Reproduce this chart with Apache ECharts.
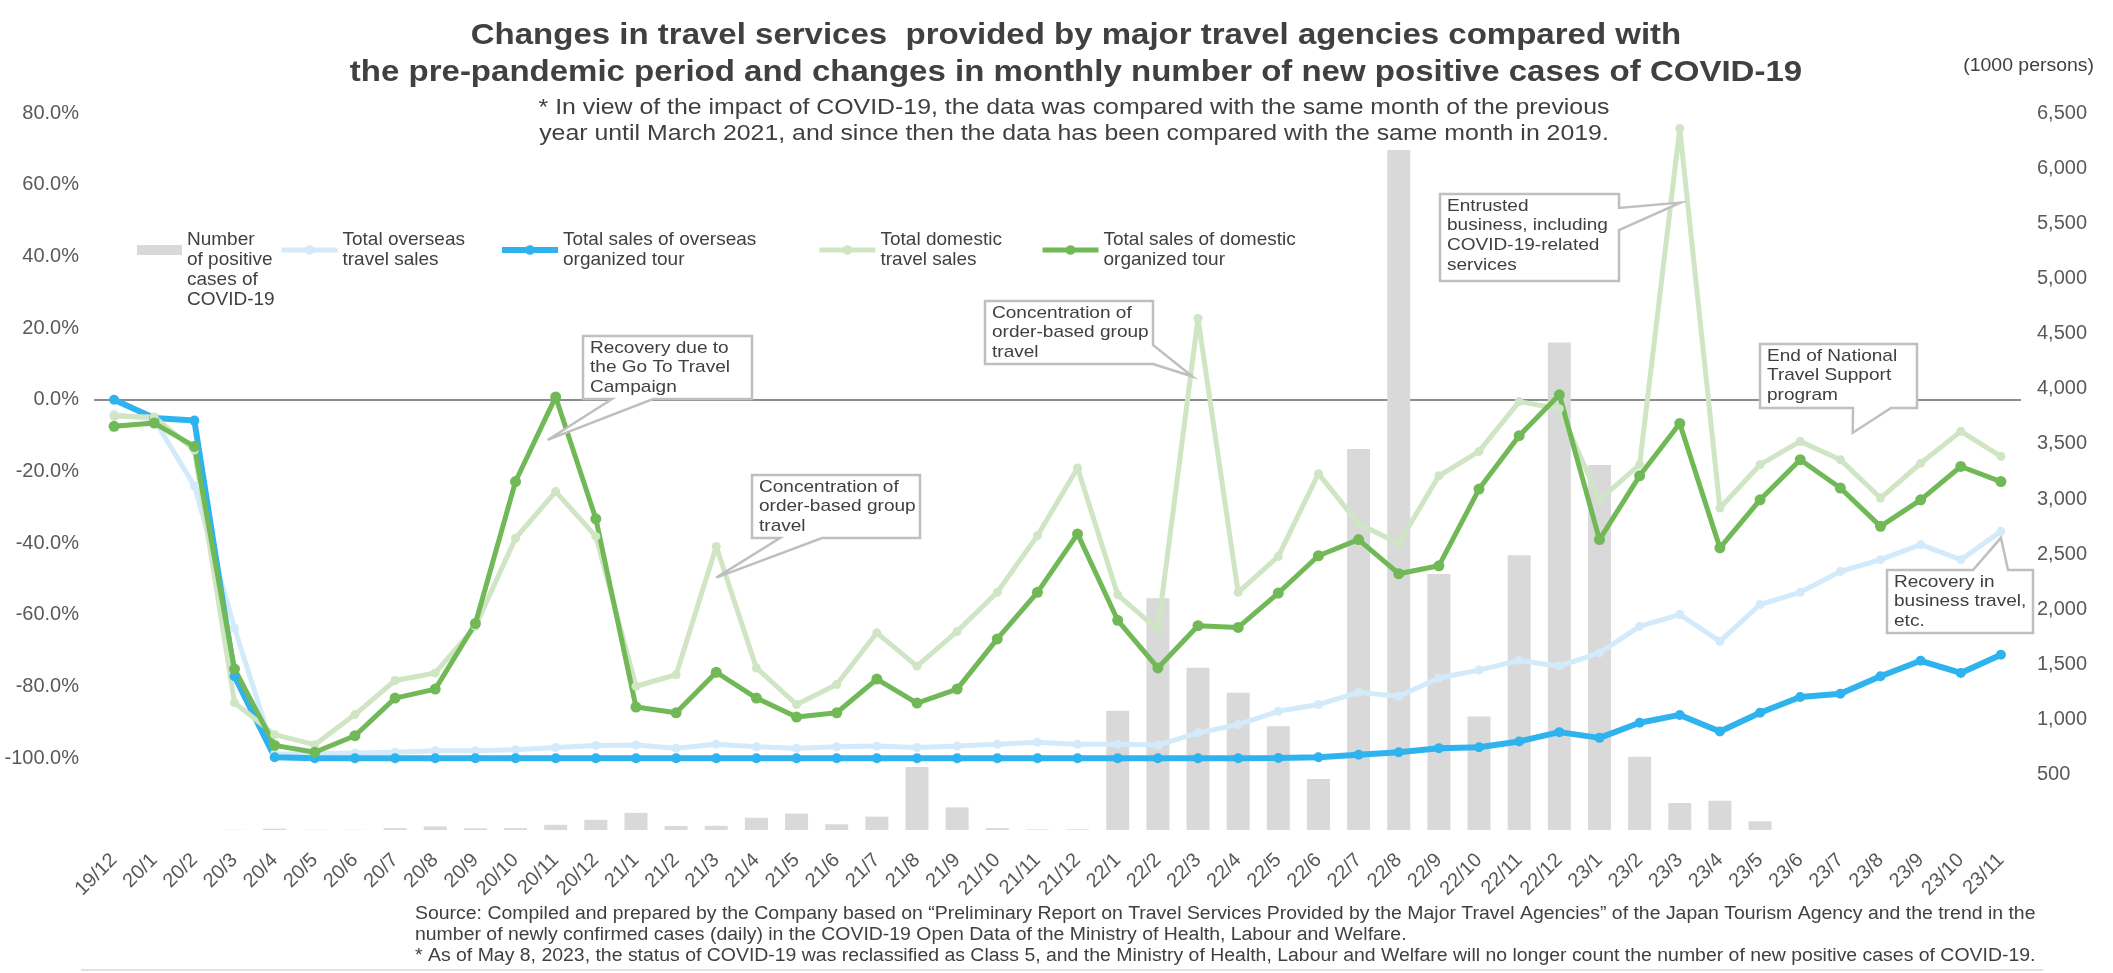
<!DOCTYPE html>
<html>
<head>
<meta charset="utf-8">
<script src="https://cdn.jsdelivr.net/npm/echarts@6/dist/echarts.min.js"></script>
<style>
html,body{margin:0;padding:0;background:#ffffff;}
#chart{width:2113px;height:973px;}
</style>
</head>
<body>
<div id="chart"></div>
<script>
// ---------------- DATA ----------------
const categories = [
  '19/12',
  '20/1','20/2','20/3','20/4','20/5','20/6','20/7','20/8','20/9','20/10','20/11','20/12',
  '21/1','21/2','21/3','21/4','21/5','21/6','21/7','21/8','21/9','21/10','21/11','21/12',
  '22/1','22/2','22/3','22/4','22/5','22/6','22/7','22/8','22/9','22/10','22/11','22/12',
  '23/1','23/2','23/3','23/4','23/5','23/6','23/7','23/8','23/9','23/10','23/11'
];

// Number of positive cases of COVID-19 (1000 persons)
const positiveCases = [
  0,
  0, 0.2, 1.8, 12, 2.4, 1.7, 17, 32, 15, 17, 47, 92,
  155, 36, 38, 111, 149, 52, 121, 570, 205, 17, 5, 6,
  1080, 2100, 1470, 1245, 940, 462, 3455, 6165, 2320, 1030, 2490, 4420,
  3310, 665, 245, 265, 78, null, null, null, null, null, null
];

// Total overseas travel sales (%)
const overseasTotal = [
  -4.0,
  -5.5, -24.0, -63.7, -98.8, -98.7, -98.5, -98.3, -97.9, -97.9, -97.6, -97.0, -96.4,
  -96.3, -97.2, -96.1, -96.8, -97.2, -96.8, -96.6, -97.0, -96.6, -96.1, -95.5, -96.1,
  -96.1, -96.3, -92.9, -90.6, -86.9, -85.0, -81.6, -82.7, -77.6, -75.4, -72.7, -74.3,
  -70.6, -63.2, -59.9, -67.4, -57.1, -53.7, -47.9, -44.6, -40.4, -44.6, -36.7
];

// Total sales of overseas organized tour (%)
const overseasTour = [
  0.0,
  -5.1, -5.8, -77.1, -99.7, -100.0, -100.0, -100.0, -100.0, -100.0, -100.0, -100.0, -100.0,
  -100.0, -100.0, -100.0, -100.0, -100.0, -100.0, -100.0, -100.0, -100.0, -100.0, -100.0, -100.0,
  -100.0, -100.0, -100.0, -100.0, -99.9, -99.7, -99.0, -98.3, -97.2, -96.9, -95.3, -92.7,
  -94.3, -90.1, -87.9, -92.5, -87.3, -82.9, -82.0, -77.1, -72.8, -76.2, -71.1
];

// Total domestic travel sales (%)
const domesticTotal = [
  -4.6,
  -4.8, -14.0, -84.5, -93.4, -96.2, -87.8, -78.3, -76.2, -63.2, -38.6, -25.6, -38.1,
  -79.9, -76.7, -40.9, -74.8, -85.0, -79.4, -65.0, -74.3, -64.6, -53.7, -37.9, -19.0,
  -54.4, -64.1, 22.7, -53.7, -43.7, -20.6, -34.6, -40.1, -21.2, -14.4, -0.5, -2.5,
  -27.9, -18.1, 75.7, -30.2, -18.1, -11.6, -16.7, -27.4, -17.7, -8.8, -15.8
];

// Total sales of domestic organized tour (%)
const domesticTour = [
  -7.4,
  -6.5, -13.0, -75.1, -96.4, -98.3, -93.7, -83.2, -80.7, -62.4, -22.8, 0.8, -33.2,
  -85.7, -87.3, -76.0, -83.2, -88.5, -87.3, -77.9, -84.6, -80.7, -66.7, -53.7, -37.4,
  -61.5, -74.8, -63.0, -63.5, -53.9, -43.5, -39.0, -48.5, -46.3, -24.9, -10.0, 1.4,
  -39.0, -21.2, -6.6, -41.3, -27.9, -16.7, -24.6, -35.3, -27.9, -18.6, -22.8
];

const seriesNames = [
  'Number of positive cases of COVID-19',
  'Total overseas travel sales',
  'Total sales of overseas organized tour',
  'Total domestic travel sales',
  'Total sales of domestic organized tour'
];
const legendLabels = [
  '\n\nNumber\nof positive\ncases of\nCOVID-19',
  'Total overseas\ntravel sales',
  'Total sales of overseas\norganized tour',
  'Total domestic\ntravel sales',
  'Total sales of domestic\norganized tour'
];

const titleText = 'Changes in travel services  provided by major travel agencies compared with\nthe pre-pandemic period and changes in monthly number of new positive cases of COVID-19';
const subtitleText = '* In view of the impact of COVID-19, the data was compared with the same month of the previous\nyear until March 2021, and since then the data has been compared with the same month in 2019.';
const unitText = '(1000 persons)';
const footnoteText = 'Source: Compiled and prepared by the Company based on \u201cPreliminary Report on Travel Services Provided by the Major Travel Agencies\u201d of the Japan Tourism Agency and the trend in the\nnumber of newly confirmed cases (daily) in the COVID-19 Open Data of the Ministry of Health, Labour and Welfare.\n* As of May 8, 2023, the status of COVID-19 was reclassified as Class 5, and the Ministry of Health, Labour and Welfare will no longer count the number of new positive cases of COVID-19.';

// Callout texts and the data point (category index, % value) each one points at
const calloutTexts = [
  'Recovery due to\nthe Go To Travel\nCampaign',
  'Concentration of\norder-based group\ntravel',
  'Concentration of\norder-based group\ntravel',
  'Entrusted\nbusiness, including\nCOVID-19-related\nservices',
  'End of National\nTravel Support\nprogram',
  'Recovery in\nbusiness travel,\netc.'
];
const calloutTargets = [
  [10.8, -11.2],
  [15.0, -49.6],
  [26.86, 6.5],
  [39.02, 55.0],
  [43.31, -9.2],
  [47.0, -38.5]
];

// ---------------- STYLE / LAYOUT ----------------
const FONT = '"Liberation Sans", Arial, Helvetica, sans-serif';
const TXT = '#404040';
const AX = '#595959';
const C_BAR = '#d9d9d9';
const C_LB = '#d3eafa';
const C_DB = '#2fb3ef';
const C_LG = '#cfe5c3';
const C_DG = '#71b857';
const LINE_W = [0, 5, 6, 5, 5];

const chart = echarts.init(document.getElementById('chart'), null, {renderer: 'canvas'});

function legendCfg(i, left, top, w, h, icon) {
  const d = {name: seriesNames[i]};
  if (icon) d.icon = icon;
  const cfg = {
    data: [d], left: left, top: top, padding: 0,
    itemWidth: w, itemHeight: h, selectedMode: false,
    formatter: () => legendLabels[i],
    textStyle: {fontFamily: FONT, fontSize: 19, color: TXT, lineHeight: 20}
  };
  if (!icon) cfg.lineStyle = {width: LINE_W[i]};
  return cfg;
}

const option = {
  animation: false,
  backgroundColor: '#ffffff',
  textStyle: {fontFamily: FONT},
  grid: {left: 94, right: 92, top: 113, bottom: 143, containLabel: false},
  legend: [
    legendCfg(0, 137, 190, 45, 10, 'rect'),
    legendCfg(1, 279, 230, 56, 12),
    legendCfg(2, 499, 230, 56, 12),
    legendCfg(3, 817, 230, 56, 12),
    legendCfg(4, 1040, 230, 56, 12)
  ],
  xAxis: {
    type: 'category', data: categories, boundaryGap: true,
    axisLine: {show: false}, axisTick: {show: false}, splitLine: {show: false},
    axisLabel: {interval: 0, rotate: 45, margin: 27, fontSize: 20, color: AX, fontFamily: FONT}
  },
  yAxis: [
    {
      type: 'value', min: -120, max: 80, interval: 20,
      axisLine: {show: false}, axisTick: {show: false}, splitLine: {show: false},
      axisLabel: {margin: 15, fontSize: 20, color: AX, fontFamily: FONT,
        formatter: v => (v === -120 ? '' : v.toFixed(1) + '%')}
    },
    {
      type: 'value', min: 0, max: 6500, interval: 500, position: 'right',
      axisLine: {show: false}, axisTick: {show: false}, splitLine: {show: false},
      axisLabel: {margin: 16, fontSize: 20, color: AX, fontFamily: FONT, align: 'left',
        formatter: v => (v === 0 ? '' : v.toLocaleString('en-US'))}
    }
  ],
  series: [
    {
      name: seriesNames[0], type: 'bar', yAxisIndex: 1, data: positiveCases,
      barWidth: 23, itemStyle: {color: C_BAR}
    },
    {
      name: seriesNames[1], type: 'line', yAxisIndex: 0, data: overseasTotal,
      symbol: 'circle', symbolSize: 9, lineStyle: {width: LINE_W[1], color: C_LB}, itemStyle: {color: C_LB},
      markLine: {
        silent: true, symbol: 'none', z: 1,
        label: {show: false},
        lineStyle: {color: '#8c8c8c', width: 2, type: 'solid'},
        data: [{yAxis: 0}]
      }
    },
    {
      name: seriesNames[2], type: 'line', yAxisIndex: 0, data: overseasTour,
      symbol: 'circle', symbolSize: 10, lineStyle: {width: LINE_W[2], color: C_DB}, itemStyle: {color: C_DB}
    },
    {
      name: seriesNames[3], type: 'line', yAxisIndex: 0, data: domesticTotal,
      symbol: 'circle', symbolSize: 9, lineStyle: {width: LINE_W[3], color: C_LG}, itemStyle: {color: C_LG}
    },
    {
      name: seriesNames[4], type: 'line', yAxisIndex: 0, data: domesticTour,
      symbol: 'circle', symbolSize: 11, lineStyle: {width: LINE_W[4], color: C_DG}, itemStyle: {color: C_DG}
    }
  ],
  graphic: [
    {type: 'text', id: 'title', x: 1076, y: 54, z: 50, scaleX: 1.1,
      style: {text: titleText, fontFamily: FONT, fontSize: 30, fontWeight: 'bold', fill: TXT,
        align: 'center', textAlign: 'center', verticalAlign: 'middle', textVerticalAlign: 'middle', lineHeight: 37}},
    {type: 'text', id: 'subtitle', x: 1074, y: 121, z: 50, scaleX: 1.13,
      style: {text: subtitleText, fontFamily: FONT, fontSize: 22, fill: TXT,
        align: 'center', textAlign: 'center', verticalAlign: 'middle', textVerticalAlign: 'middle', lineHeight: 26}},
    {type: 'text', id: 'unit', x: 2094, y: 66, z: 50, scaleX: 1.08,
      style: {text: unitText, fontFamily: FONT, fontSize: 18, fill: TXT,
        align: 'right', textAlign: 'right', verticalAlign: 'middle', textVerticalAlign: 'middle'}},
    {type: 'text', id: 'foot', x: 415, y: 935, z: 50, scaleX: 1.08,
      style: {text: footnoteText, fontFamily: FONT, fontSize: 18, fill: TXT,
        align: 'left', textAlign: 'left', verticalAlign: 'middle', textVerticalAlign: 'middle', lineHeight: 21}},
    {type: 'line', id: 'footline', z: 50,
      shape: {x1: 81, y1: 970, x2: 2043, y2: 970},
      style: {stroke: '#d9d9d9', lineWidth: 1.5}}
  ]
};

chart.setOption(option);

// ---------------- CALLOUTS (tips anchored to data via the chart's own scales) ----------------
function toPx(target) {
  const idx = target[0], val = target[1];
  const i0 = Math.floor(idx), f = idx - i0;
  const a = chart.convertToPixel({seriesIndex: 1}, [i0, val]);
  const b = chart.convertToPixel({seriesIndex: 1}, [i0 + 1, val]);
  return [a[0] + (b[0] - a[0]) * f, a[1]];
}

// box: [x, y, w, h]; tail base positions along one edge
const calloutLayout = [
  {box: [583, 336, 169, 63], edge: 'bottom', from: 612, to: 653},
  {box: [752, 475, 168, 63], edge: 'bottom', from: 780, to: 822},
  {box: [985, 301, 168, 63], edge: 'right', from: 345, to: 364},
  {box: [1440, 194, 179, 87], edge: 'right', from: 208, to: 230},
  {box: [1760, 344, 157, 64], edge: 'bottom', from: 1853, to: 1891},
  {box: [1887, 570, 146, 63], edge: 'top', from: 1973, to: 2008}
];

function calloutPoints(L, tip) {
  const [x, y, w, h] = L.box;
  const r = x + w, b = y + h;
  if (L.edge === 'top') {
    return [[x, y], [L.from, y], tip, [L.to, y], [r, y], [r, b], [x, b]];
  } else if (L.edge === 'right') {
    return [[x, y], [r, y], [r, L.from], tip, [r, L.to], [r, b], [x, b]];
  } else {
    return [[x, y], [r, y], [r, b], [L.to, b], tip, [L.from, b], [x, b]];
  }
}

const calloutGraphics = [];
calloutTexts.forEach((txt, k) => {
  const L = calloutLayout[k];
  const tip = toPx(calloutTargets[k]);
  calloutGraphics.push({
    type: 'polygon', id: 'co_box_' + k, z: 60,
    shape: {points: calloutPoints(L, tip)},
    style: {fill: '#ffffff', stroke: '#bfbfbf', lineWidth: 2.5}
  });
  calloutGraphics.push({
    type: 'text', id: 'co_txt_' + k, z: 61, x: L.box[0] + 7, y: L.box[1] + 2, scaleX: 1.12,
    style: {text: txt, fontFamily: FONT, fontSize: 17, fill: TXT, lineHeight: 19.7,
      align: 'left', textAlign: 'left', verticalAlign: 'top', textVerticalAlign: 'top'}
  });
});

chart.setOption({graphic: calloutGraphics});
</script>
</body>
</html>
